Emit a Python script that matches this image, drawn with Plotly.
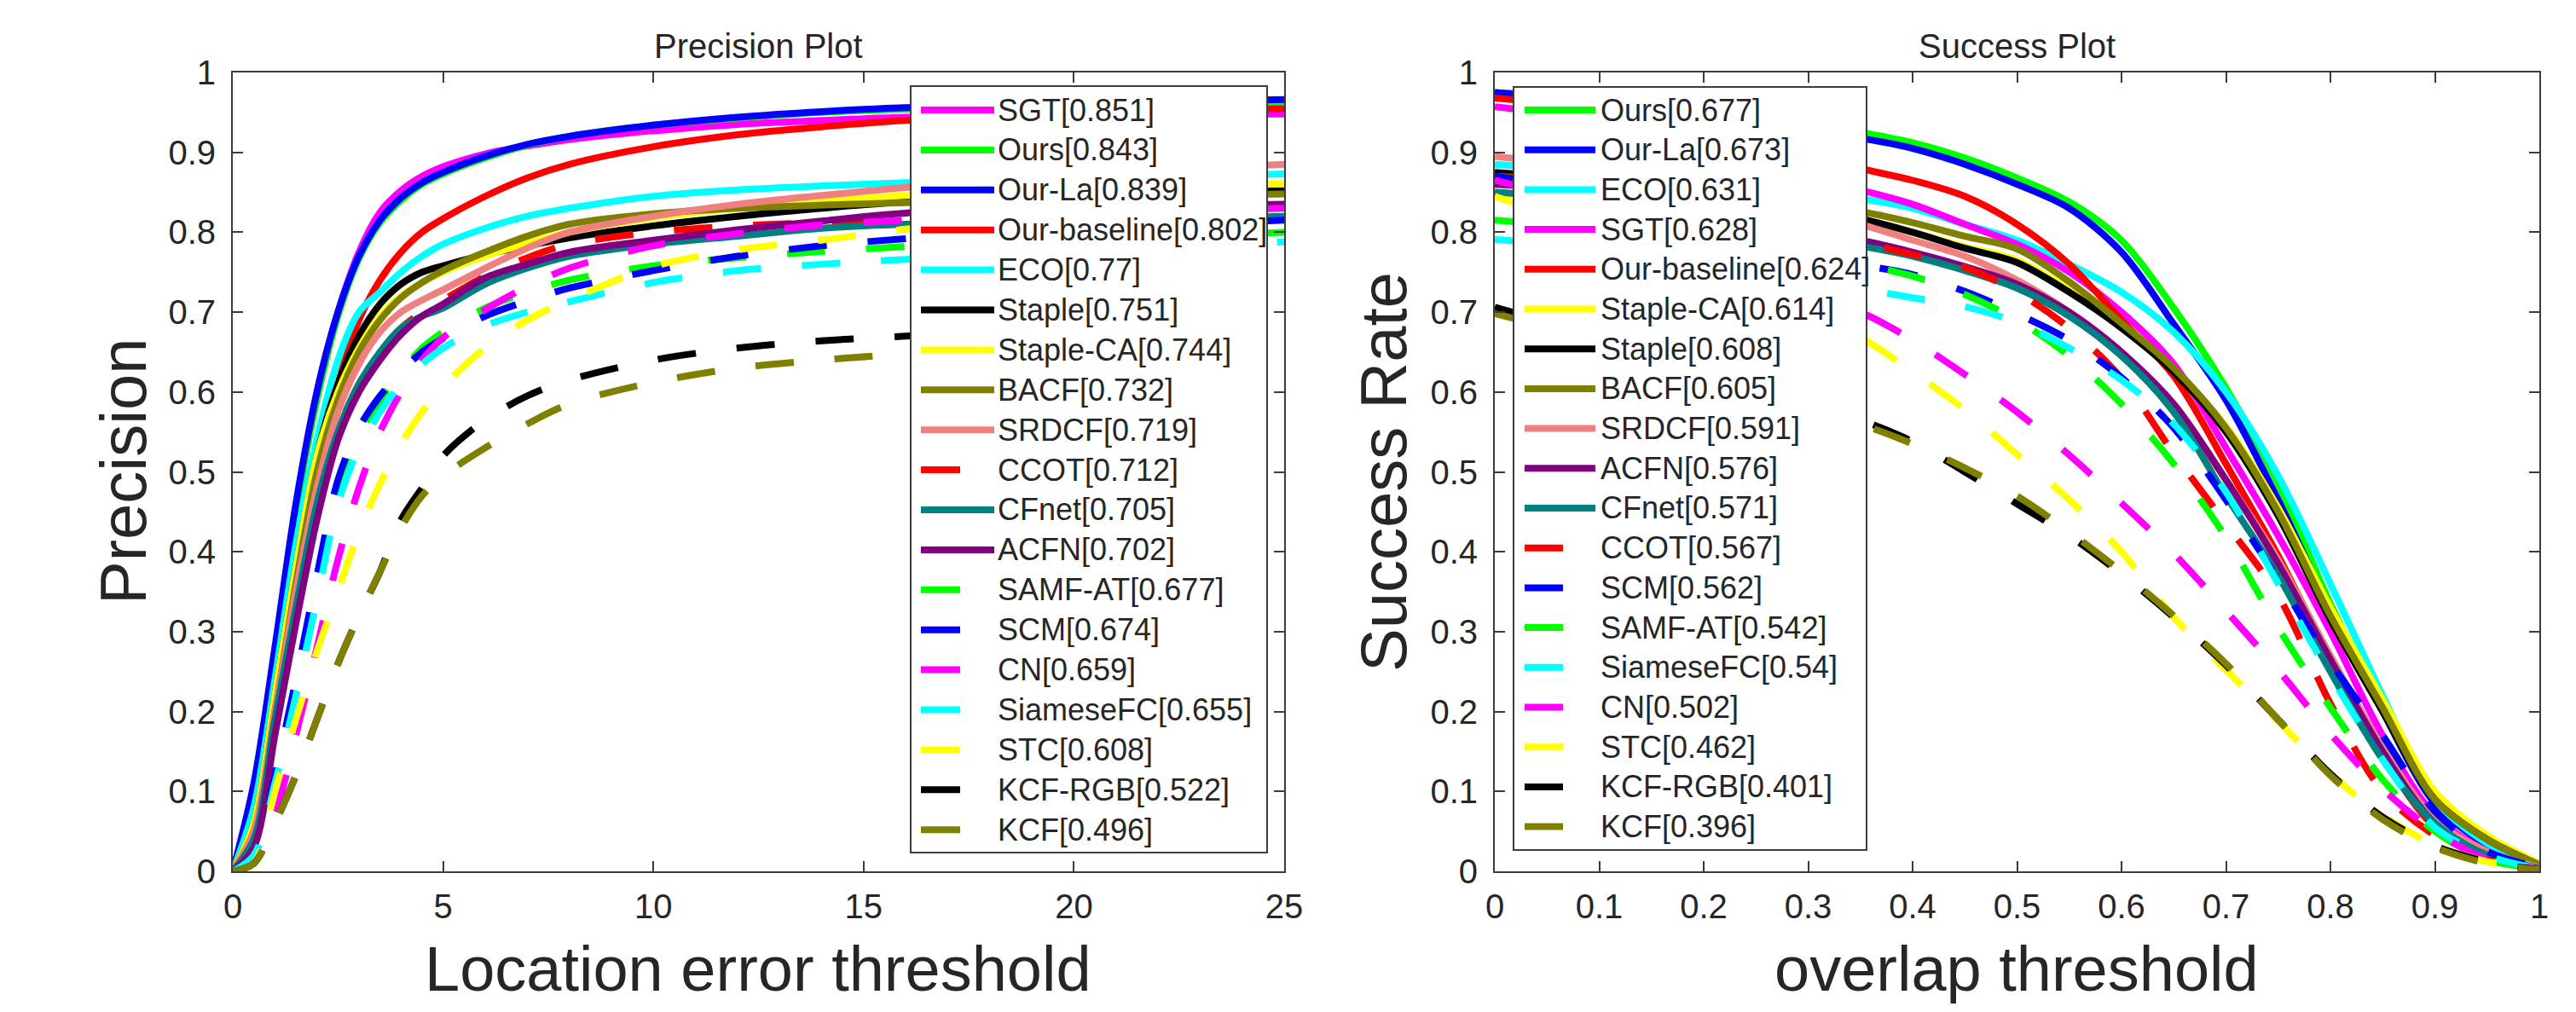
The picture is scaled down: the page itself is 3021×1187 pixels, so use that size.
import plotly.graph_objects as go

W, H = 3021, 1187
FONT = "Liberation Sans, Arial, Helvetica, sans-serif"
TXT = "#262626"

# ---------------- Precision plot (location error threshold) ----------------
P_X = [0, 0.5, 1, 1.5, 2, 2.5, 3, 3.5, 4, 4.5, 5, 6, 7, 8, 10, 12, 14, 16, 20, 25]
P_TICKS = [0, 5, 10, 15, 20, 25]

P_SGT = [0, .10, .27, .45, .60, .70, .775, .825, .852, .870, .882, .898, .908, .916, .927, .935, .940, .944, .947, .948]
P_OURS = [0, .10, .27, .45, .59, .695, .767, .812, .840, .860, .873, .893, .909, .920, .934, .943, .950, .954, .959, .963]
P_OURLA = [0, .11, .28, .46, .60, .70, .770, .815, .843, .862, .875, .895, .910, .920, .934, .944, .951, .956, .961, .966]
P_BASE = [0, .06, .20, .36, .50, .61, .69, .74, .775, .80, .817, .845, .868, .885, .907, .922, .932, .940, .948, .955]
P_ECO = [0, .08, .24, .41, .54, .64, .70, .725, .75, .77, .785, .805, .82, .83, .845, .853, .858, .862, .867, .873]
P_STAPLE = [0, .06, .22, .38, .52, .61, .67, .71, .735, .75, .758, .772, .783, .793, .808, .82, .83, .838, .846, .852]
P_STAPLECA = [0, .06, .22, .38, .52, .60, .655, .695, .72, .737, .75, .77, .786, .80, .818, .83, .838, .846, .854, .861]
P_BACF = [0, .05, .20, .36, .50, .59, .65, .69, .718, .737, .752, .775, .795, .81, .823, .83, .834, .837, .843, .848]
P_SRDCF = [0, .05, .20, .35, .48, .575, .635, .675, .70, .715, .728, .755, .78, .80, .82, .835, .846, .856, .871, .885]
P_CCOT = [0, .04, .18, .32, .45, .55, .61, .65, .68, .70, .715, .745, .768, .785, .80, .808, .812, .815, .82, .825]
P_CFNET = [0, .04, .19, .33, .46, .55, .61, .65, .68, .695, .705, .735, .755, .77, .785, .795, .805, .81, .815, .82]
P_ACFN = [0, .03, .17, .31, .44, .54, .60, .64, .672, .695, .71, .743, .76, .775, .79, .803, .814, .824, .83, .835]
P_SAMF = [0, .02, .11, .22, .35, .47, .545, .59, .625, .655, .675, .705, .725, .74, .758, .768, .776, .782, .79, .80]
P_SCM = [0, .02, .12, .24, .37, .49, .555, .595, .625, .65, .667, .695, .714, .73, .752, .77, .783, .792, .805, .815]
P_CN = [0, .01, .07, .17, .28, .39, .48, .55, .60, .64, .668, .703, .732, .755, .783, .798, .809, .815, .823, .83]
P_SIAM = [0, .02, .11, .22, .34, .46, .53, .575, .61, .635, .655, .683, .70, .713, .737, .752, .76, .766, .777, .788]
P_STC = [0, .01, .10, .19, .275, .35, .425, .485, .535, .575, .607, .655, .69, .715, .757, .778, .79, .804, .82, .838]
P_KCFRGB = [0, .01, .06, .12, .19, .26, .32, .375, .44, .48, .52, .565, .595, .615, .64, .655, .664, .67, .685, .70]
P_KCF = [0, .01, .06, .12, .19, .26, .32, .375, .43, .47, .495, .53, .56, .585, .612, .63, .64, .648, .665, .685]

P_NAMES = ["SGT[0.851]", "Ours[0.843]", "Our-La[0.839]", "Our-baseline[0.802]", "ECO[0.77]",
           "Staple[0.751]", "Staple-CA[0.744]", "BACF[0.732]", "SRDCF[0.719]", "CCOT[0.712]",
           "CFnet[0.705]", "ACFN[0.702]", "SAMF-AT[0.677]", "SCM[0.674]", "CN[0.659]",
           "SiameseFC[0.655]", "STC[0.608]", "KCF-RGB[0.522]", "KCF[0.496]"]
P_SERIES = [P_SGT, P_OURS, P_OURLA, P_BASE, P_ECO, P_STAPLE, P_STAPLECA, P_BACF, P_SRDCF, P_CCOT,
            P_CFNET, P_ACFN, P_SAMF, P_SCM, P_CN, P_SIAM, P_STC, P_KCFRGB, P_KCF]
P_COLORS = ["#FF00FF", "#00FF00", "#0000FF", "#FF0000", "#00FFFF", "#000000", "#FFFF00", "#808000",
            "#F08080", "#FF0000", "#008080", "#800080", "#00FF00", "#0000FF", "#FF00FF", "#00FFFF",
            "#FFFF00", "#000000", "#808000"]
P_DASHED = [False] * 9 + [True] + [False, False] + [True] * 7

# ---------------- Success plot (overlap threshold) ----------------
S_X = [0, .1, .2, .3, .35, .4, .45, .5, .55, .6, .65, .7, .75, .8, .85, .9, .95, 1.0]
S_TICKS = [0, .1, .2, .3, .4, .5, .6, .7, .8, .9, 1]

S_OURS = [.975, .965, .952, .935, .925, .912, .893, .868, .838, .790, .705, .605, .485, .335, .205, .090, .035, .005]
S_OURLA = [.975, .965, .950, .930, .918, .905, .885, .860, .830, .775, .685, .590, .465, .325, .200, .085, .033, .005]
S_ECO = [.885, .875, .865, .850, .842, .830, .810, .790, .760, .725, .675, .600, .495, .360, .220, .090, .035, .005]
S_SGT = [.957, .940, .910, .870, .853, .835, .810, .785, .750, .700, .635, .530, .420, .300, .170, .070, .025, .004]
S_BASE = [.968, .955, .935, .900, .880, .865, .845, .810, .760, .690, .620, .510, .395, .265, .145, .055, .020, .004]
S_STAPLECA = [.848, .845, .838, .825, .816, .800, .782, .765, .728, .682, .628, .557, .455, .330, .215, .100, .045, .010]
S_STAPLE = [.875, .865, .848, .827, .817, .800, .780, .762, .725, .680, .625, .550, .445, .315, .200, .090, .040, .008]
S_BACF = [.870, .862, .850, .835, .826, .812, .795, .779, .738, .686, .630, .555, .450, .320, .205, .090, .040, .008]
S_SRDCF = [.895, .880, .860, .825, .810, .790, .770, .740, .700, .650, .580, .490, .390, .270, .155, .065, .025, .005]
S_ACFN = [.860, .850, .830, .800, .790, .775, .757, .735, .700, .650, .585, .490, .385, .265, .150, .060, .020, .004]
S_CFNET = [.850, .840, .820, .795, .783, .770, .752, .730, .695, .645, .575, .470, .370, .250, .140, .060, .020, .004]
S_CCOT = [.870, .855, .830, .800, .787, .772, .756, .725, .680, .617, .523, .435, .345, .210, .100, .045, .015, .003]
S_SCM = [.870, .850, .820, .780, .760, .747, .726, .698, .665, .618, .555, .465, .365, .262, .170, .075, .025, .005]
S_SAMF = [.815, .805, .790, .770, .760, .745, .722, .690, .645, .585, .510, .418, .305, .205, .115, .050, .015, .003]
S_SIAM = [.791, .780, .765, .745, .730, .718, .707, .687, .655, .615, .560, .475, .360, .245, .140, .055, .020, .003]
S_CN = [.865, .830, .780, .720, .700, .665, .622, .575, .521, .461, .398, .326, .252, .172, .103, .050, .015, .003]
S_STC = [.845, .800, .750, .690, .668, .625, .578, .522, .465, .400, .318, .252, .188, .122, .070, .033, .012, .002]
S_KCFRGB = [.706, .670, .630, .585, .565, .538, .500, .460, .420, .372, .318, .258, .190, .122, .068, .032, .012, .002]
S_KCF = [.698, .665, .625, .580, .560, .535, .505, .470, .425, .375, .320, .260, .190, .120, .065, .030, .010, .002]

S_NAMES = ["Ours[0.677]", "Our-La[0.673]", "ECO[0.631]", "SGT[0.628]", "Our-baseline[0.624]",
           "Staple-CA[0.614]", "Staple[0.608]", "BACF[0.605]", "SRDCF[0.591]", "ACFN[0.576]",
           "CFnet[0.571]", "CCOT[0.567]", "SCM[0.562]", "SAMF-AT[0.542]", "SiameseFC[0.54]",
           "CN[0.502]", "STC[0.462]", "KCF-RGB[0.401]", "KCF[0.396]"]
S_SERIES = [S_OURS, S_OURLA, S_ECO, S_SGT, S_BASE, S_STAPLECA, S_STAPLE, S_BACF, S_SRDCF, S_ACFN,
            S_CFNET, S_CCOT, S_SCM, S_SAMF, S_SIAM, S_CN, S_STC, S_KCFRGB, S_KCF]
S_COLORS = ["#00FF00", "#0000FF", "#00FFFF", "#FF00FF", "#FF0000", "#FFFF00", "#000000", "#808000",
            "#F08080", "#800080", "#008080", "#FF0000", "#0000FF", "#00FF00", "#00FFFF", "#FF00FF",
            "#FFFF00", "#000000", "#808000"]
S_DASHED = [False] * 11 + [True] * 8

LW = 8
DASH = "45px,48px"

fig = go.Figure()


def px2x(p):
    return p / W


def px2y(p):
    return 1 - p / H


for names, series, colors, dashed, xs, xa, ya in [
    (P_NAMES, P_SERIES, P_COLORS, P_DASHED, P_X, "x", "y"),
    (S_NAMES, S_SERIES, S_COLORS, S_DASHED, S_X, "x2", "y2"),
]:
    for nm, ys, col, dsh in zip(names, series, colors, dashed):
        fig.add_trace(go.Scatter(
            x=xs, y=ys, name=nm, mode="lines", xaxis=xa, yaxis=ya,
            line=dict(color=col, width=LW, dash=DASH if dsh else "solid", shape="spline", smoothing=0.9),
            showlegend=False, hoverinfo="name+x+y"))

axis_common = dict(showline=True, linecolor="#3c3c3c", linewidth=2, mirror="ticks",
                   ticks="inside", ticklen=12, tickwidth=2, tickcolor="#3c3c3c",
                   showgrid=False, zeroline=False, automargin=False,
                   tickfont=dict(family=FONT, size=40, color=TXT))

fig.update_layout(
    width=W, height=H, template="none",
    paper_bgcolor="white", plot_bgcolor="white",
    margin=dict(l=0, r=0, t=0, b=0),
    showlegend=False,
    xaxis=dict(domain=[px2x(265), px2x(1498)], range=[0, 25], tickvals=P_TICKS, anchor="y",
               ticklabelstandoff=5, **axis_common),
    yaxis=dict(domain=[px2y(1014), px2y(77)], range=[0, 1], dtick=0.1, tick0=0, anchor="x",
               ticklabelstandoff=10, **axis_common),
    xaxis2=dict(domain=[px2x(1745), px2x(2970)], range=[0, 1], tickvals=S_TICKS, anchor="y2",
                ticklabelstandoff=5, **axis_common),
    yaxis2=dict(domain=[px2y(1014), px2y(77)], range=[0, 1], dtick=0.1, tick0=0, anchor="x2",
                ticklabelstandoff=10, **axis_common),
)

annotations = []
shapes = []


def text(x, y, s, size, angle=0, xanchor="center", yanchor="middle"):
    annotations.append(dict(x=px2x(x), y=px2y(y), xref="paper", yref="paper", text=s,
                            showarrow=False, textangle=angle, xanchor=xanchor, yanchor=yanchor,
                            font=dict(family=FONT, size=size, color=TXT)))


# Titles and axis titles
text(881, 46, "Precision Plot", 40)
text(2357, 46, "Success Plot", 40)
text(136, 545, "Precision", 76, angle=-90)
text(1614, 545, "Success Rate", 76, angle=-90)
text(881, 1128, "Location error threshold", 74)
text(2357, 1128, "overlap threshold", 74)

# Legends (drawn boxes)
for names, colors, dashed, box, line_x0, solid_x1, dash_x1, text_x, row0, step in [
    (P_NAMES, P_COLORS, P_DASHED, (1060, 93, 1478, 992), 1072, 1158, 1118, 1160, 121, 46.9),
    (S_NAMES, S_COLORS, S_DASHED, (1767, 94, 2181, 989), 1780, 1863, 1825, 1867, 121, 46.7),
]:
    x0, y0, x1, y1 = box
    shapes.append(dict(type="rect", xref="paper", yref="paper", layer="above",
                       x0=px2x(x0), x1=px2x(x1), y0=px2y(y1), y1=px2y(y0),
                       fillcolor="white", line=dict(color="#3c3c3c", width=2)))
    for i, (nm, col, dsh) in enumerate(zip(names, colors, dashed)):
        yy = row0 + i * step
        shapes.append(dict(type="line", xref="paper", yref="paper", layer="above",
                           x0=px2x(line_x0), x1=px2x(dash_x1 if dsh else solid_x1),
                           y0=px2y(yy), y1=px2y(yy), line=dict(color=col, width=LW)))
        text(text_x, yy, nm, 36, xanchor="left")

fig.update_layout(annotations=annotations, shapes=shapes)
fig.write_html("out.html")
